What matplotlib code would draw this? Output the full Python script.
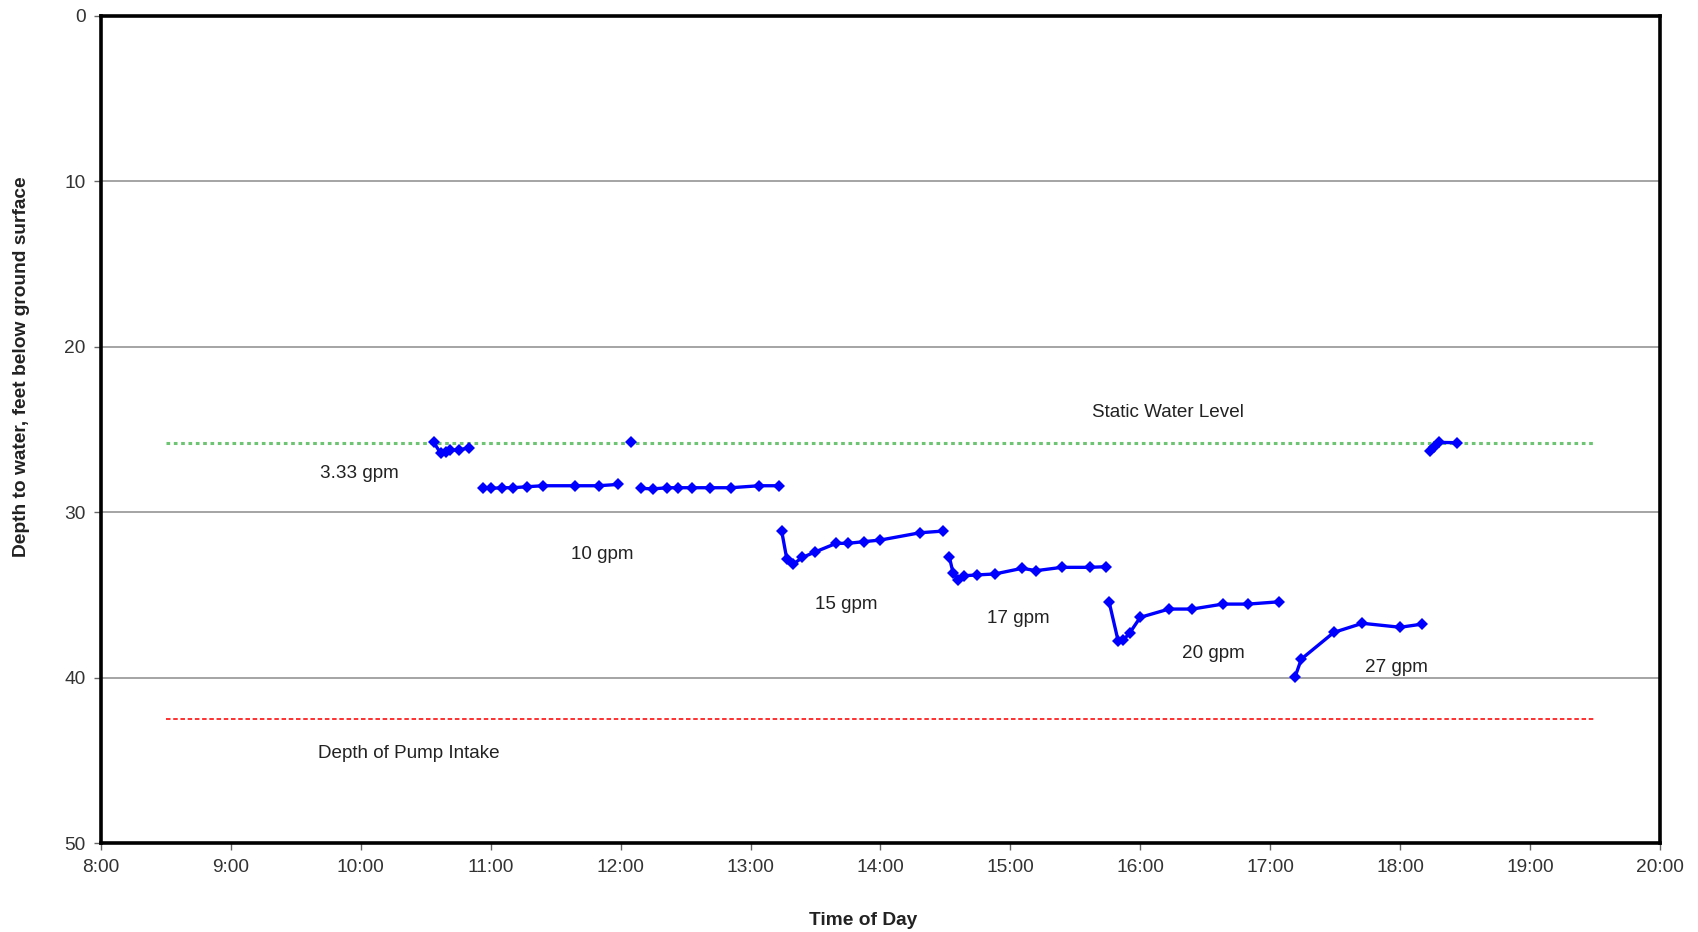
import numpy as np
import matplotlib.pyplot as plt
import matplotlib as mpl
from matplotlib.ticker import FuncFormatter, MultipleLocator

mpl.rcParams['font.family'] = ['Liberation Sans', 'DejaVu Sans']

# time of day in decimal hours, depth to water in feet
t_333 = [10.56, 10.615, 10.66, 10.69, 10.76, 10.83]
d_333 = [25.75, 26.44, 26.34, 26.24, 26.24, 26.10]

t_check = [12.08]
d_check = [25.75]

t_10a = [10.94, 11.00, 11.085, 11.17, 11.28, 11.40, 11.65, 11.83, 11.98]
d_10a = [28.56, 28.56, 28.52, 28.52, 28.46, 28.40, 28.40, 28.40, 28.32]

t_10b = [12.16, 12.25, 12.36, 12.44, 12.55, 12.69, 12.85, 13.065, 13.22]
d_10b = [28.56, 28.59, 28.52, 28.52, 28.52, 28.52, 28.52, 28.40, 28.40]

t_15 = [13.24, 13.28, 13.33, 13.40, 13.50, 13.66, 13.75, 13.87, 14.00, 14.305, 14.48]
d_15 = [31.14, 32.85, 33.13, 32.73, 32.39, 31.88, 31.88, 31.78, 31.68, 31.24, 31.14]

t_17 = [14.53, 14.56, 14.60, 14.64, 14.74, 14.88, 15.09, 15.20, 15.395, 15.61, 15.74]
d_17 = [32.69, 33.69, 34.10, 33.84, 33.79, 33.73, 33.39, 33.53, 33.33, 33.33, 33.29]

t_20 = [15.76, 15.83, 15.87, 15.92, 16.00, 16.22, 16.40, 16.635, 16.83, 17.07]
d_20 = [35.41, 37.78, 37.72, 37.28, 36.35, 35.85, 35.85, 35.55, 35.55, 35.41]

t_27 = [17.19, 17.24, 17.49, 17.71, 18.00, 18.17]
d_27 = [39.98, 38.87, 37.26, 36.71, 36.95, 36.76]

t_rec = [18.23, 18.26, 18.30, 18.44]
d_rec = [26.28, 26.05, 25.78, 25.80]

static_level = 25.8
pump_intake = 42.5
ref_span = [8.5, 19.5]

rate_labels = ['3.33 gpm', '10 gpm', '15 gpm', '17 gpm', '20 gpm', '27 gpm']
rate_label_t = [9.99, 11.86, 13.74, 15.06, 16.56, 17.97]
rate_label_d = [27.66, 32.57, 35.58, 36.43, 38.53, 39.38]

fig = plt.figure(figsize=(16.99, 9.32), dpi=100)
ax = fig.add_axes([0.0594, 0.0952, 0.9176, 0.888])

# reference levels
ax.plot(ref_span, [static_level, static_level], color='#3cb043', linestyle=(0, (1.2, 1.2)),
        linewidth=2.2, alpha=0.75)
ax.plot(ref_span, [pump_intake, pump_intake], color='#ff2020', linestyle=(0, (2.5, 1.5)),
        linewidth=1.3)

for tt, dd in [(t_333, d_333), (t_check, d_check), (t_10a, d_10a), (t_10b, d_10b),
               (t_15, d_15), (t_17, d_17), (t_20, d_20), (t_27, d_27), (t_rec, d_rec)]:
    ax.plot(tt, dd, color='#0000ff', linewidth=2.4, marker='D', markersize=6,
            markeredgewidth=0, zorder=3)

# annotations
for lab, tt, dd in zip(rate_labels, rate_label_t, rate_label_d):
    ax.text(tt, dd, lab, ha='center', va='center', fontsize=13.6, color='#222222')
ax.text(16.21, 24.0, 'Static Water Level', ha='center', va='center', fontsize=13.6, color='#222222')
ax.text(10.37, 44.55, 'Depth of Pump Intake', ha='center', va='center', fontsize=13.6, color='#222222')

ax.set_xlim(8, 20)
ax.set_ylim(50, 0)
ax.xaxis.set_major_locator(MultipleLocator(1))
ax.yaxis.set_major_locator(MultipleLocator(10))
ax.xaxis.set_major_formatter(FuncFormatter(lambda v, p: f"{int(round(v))}:00"))
ax.grid(axis='y', color='#8c8c8c', linewidth=1.1)
ax.set_axisbelow(True)

for s in ax.spines.values():
    s.set_linewidth(2.6)
    s.set_color('black')
ax.tick_params(direction='out', length=5, width=1, color='#666666', labelsize=13.8,
               labelcolor='#333333', pad=6)

ax.set_xlabel('Time of Day', fontsize=13.8, fontweight='bold', color='#222222')
ax.xaxis.set_label_coords(0.489, -0.0935)
ax.xaxis.label.set_va('center')
ax.set_ylabel('Depth to water, feet below ground surface', fontsize=13.8, fontweight='bold',
              color='#222222')
ax.yaxis.set_label_coords(-0.0509, 0.5755)
ax.yaxis.label.set_va('center')

plt.savefig('out.png', dpi=100)
plt.close()
